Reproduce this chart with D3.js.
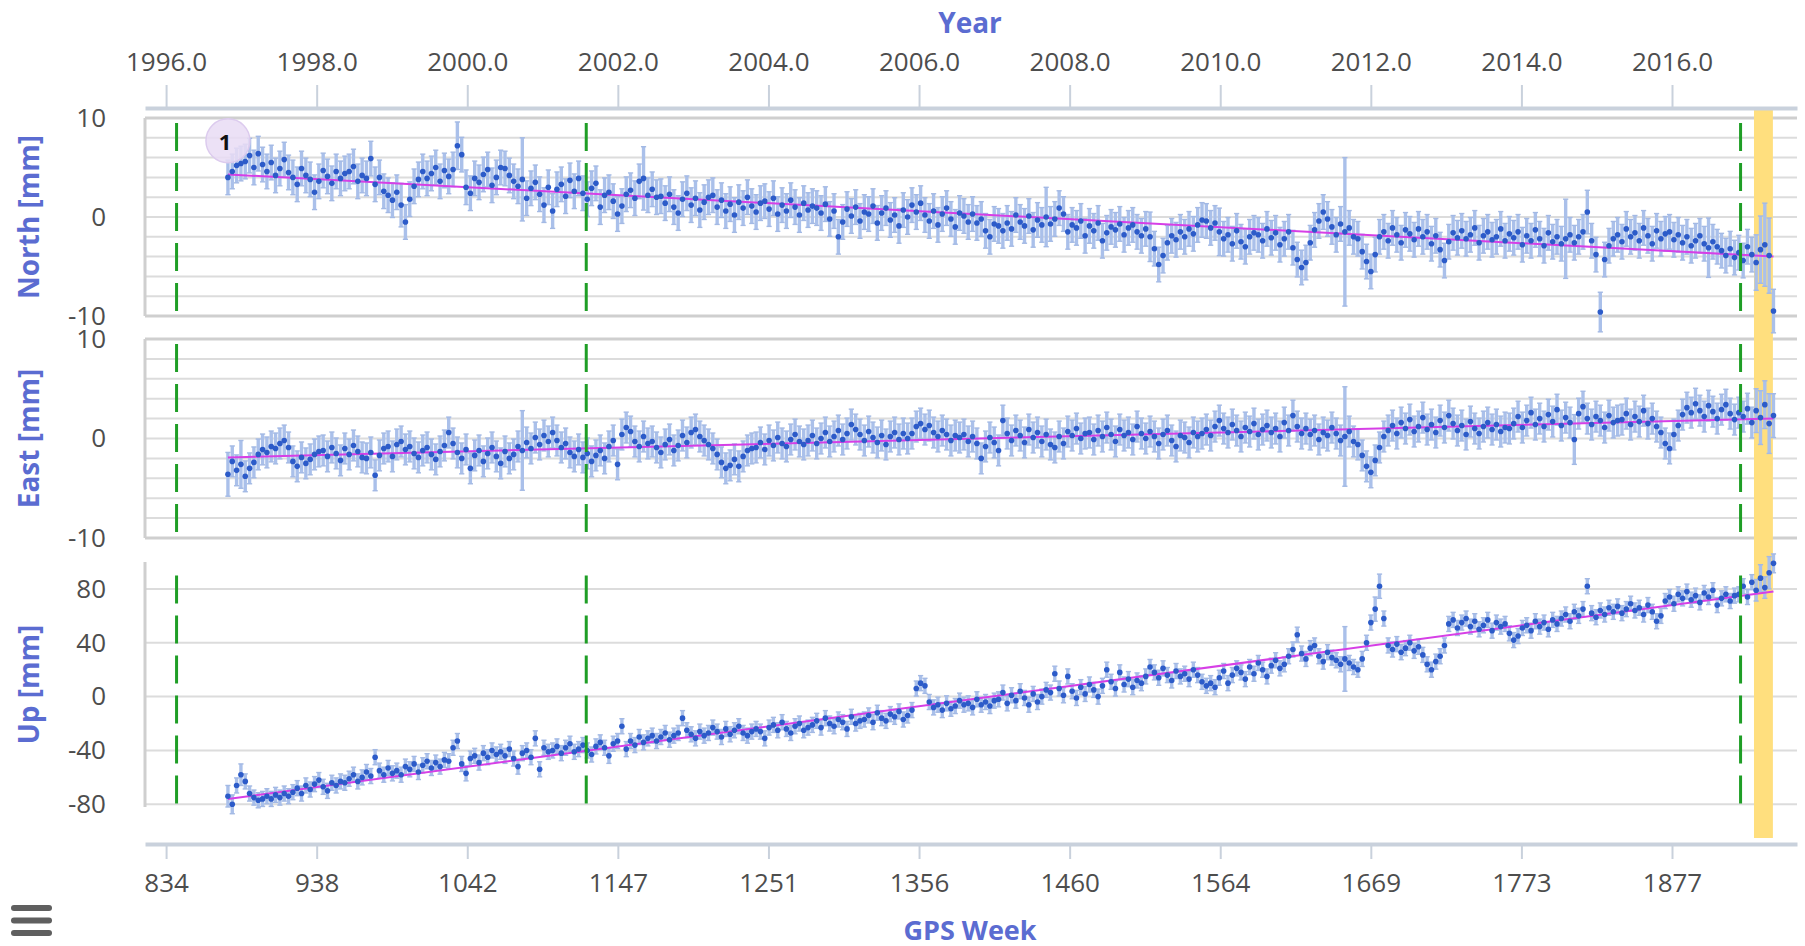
<!DOCTYPE html>
<html><head><meta charset="utf-8">
<script src="https://cdn.jsdelivr.net/npm/d3@7"></script>
<style>
body{margin:0;background:#fff;}
svg{display:block;font-family:"Open Sans",sans-serif;}
</style></head><body>
<svg id="chart" width="1805" height="946"></svg>
<script>
// ---------------- DATA ----------------
const weeks = [
877,880,883,886,889,892,895,898,901,904,907,910,913,916,919,922,925,928,931,934,
937,940,943,946,949,952,955,958,961,964,967,970,973,976,979,982,985,988,991,994,
997,1000,1003,1006,1009,1012,1015,1018,1021,1024,1027,1030,1033,1036,1039,1042,1045,1048,1051,1054,
1057,1060,1063,1066,1069,1072,1075,1078,1081,1084,1087,1090,1093,1096,1099,1102,1105,1108,1111,1114,
1117,1120,1123,1126,1129,1132,1135,1138,1141,1144,1147,1150,1153,1156,1159,1162,1165,1168,1171,1174,
1177,1180,1183,1186,1189,1192,1195,1198,1201,1204,1207,1210,1213,1216,1219,1222,1225,1228,1231,1234,
1237,1240,1243,1246,1249,1252,1255,1258,1261,1264,1267,1270,1273,1276,1279,1282,1285,1288,1291,1294,
1297,1300,1303,1306,1309,1312,1315,1318,1321,1324,1327,1330,1333,1336,1339,1342,1345,1348,1351,1354,
1357,1360,1363,1366,1369,1372,1375,1378,1381,1384,1387,1390,1393,1396,1399,1402,1405,1408,1411,1414,
1417,1420,1423,1426,1429,1432,1435,1438,1441,1444,1447,1450,1453,1456,1459,1462,1465,1468,1471,1474,
1477,1480,1483,1486,1489,1492,1495,1498,1501,1504,1507,1510,1513,1516,1519,1522,1525,1528,1531,1534,
1537,1540,1543,1546,1549,1552,1555,1558,1561,1564,1567,1570,1573,1576,1579,1582,1585,1588,1591,1594,
1597,1600,1603,1606,1609,1612,1615,1618,1621,1624,1627,1630,1633,1636,1639,1642,1645,1648,1651,1654,
1657,1660,1663,1666,1669,1672,1675,1678,1681,1684,1687,1690,1693,1696,1699,1702,1705,1708,1711,1714,
1717,1720,1723,1726,1729,1732,1735,1738,1741,1744,1747,1750,1753,1756,1759,1762,1765,1768,1771,1774,
1777,1780,1783,1786,1789,1792,1795,1798,1801,1804,1807,1810,1813,1816,1819,1822,1825,1828,1831,1834,
1837,1840,1843,1846,1849,1852,1855,1858,1861,1864,1867,1870,1873,1876,1879,1882,1885,1888,1891,1894,
1897,1900,1903,1906,1909,1912,1915,1918,1921,1924,1927,1930,1933,1936,1939,1942,1945,1948
];

const northVals = [
4.0,4.6,5.2,5.4,
5.6,6.2,5.0,6.4,5.3,4.6,5.5,4.2,4.9,5.8,4.5,4.0,
3.3,4.9,4.2,3.8,2.5,3.6,4.7,4.1,3.4,4.6,3.9,4.4,
4.6,5.1,3.6,4.2,3.9,5.9,3.3,4.0,2.6,2.2,1.7,2.5,
1.2,-0.5,1.8,3.1,3.8,4.6,3.9,4.4,5.0,3.6,4.7,4.1,
4.8,7.2,6.3,3.0,2.4,3.9,3.5,4.3,4.8,3.2,4.0,5.0,
4.9,4.2,3.6,3.1,3.8,1.9,2.9,3.5,2.3,1.2,3.0,0.6,
2.8,3.3,2.1,3.7,2.6,3.9,2.4,1.8,2.9,3.4,1.0,2.2,
2.5,1.6,0.3,1.1,2.3,2.7,1.9,3.6,3.9,2.2,2.8,2.0,
2.1,1.4,2.3,1.0,0.4,1.8,2.4,1.2,1.9,0.7,1.5,2.0,
2.2,1.0,1.7,0.6,1.3,0.2,1.5,0.9,2.0,1.1,0.5,1.4,
1.6,0.8,1.9,0.3,1.2,0.6,1.7,1.0,0.2,1.4,0.7,1.1,
0.9,0.4,1.3,-0.2,0.6,-2.0,-0.5,0.8,0.1,1.0,-0.4,0.5,
0.3,1.1,-0.6,0.4,0.9,-0.3,0.2,-0.9,0.7,0.0,1.2,0.5,
1.4,0.2,-0.4,0.6,-0.8,0.3,0.9,-0.2,-1.0,0.4,0.1,-0.5,
0.3,-0.6,-0.2,-1.4,-2.0,-0.7,-0.9,
-1.4,-0.6,-1.2,0.2,-0.5,-0.9,0.1,-1.3,-0.3,-0.8,0.0,
-0.7,-0.2,0.9,0.3,-1.5,-0.8,-1.1,-0.4,-1.9,-0.9,-1.4,-0.6,
-2.4,-1.6,-1.0,-1.3,-0.7,-1.8,-1.1,-0.8,-1.5,-1.9,-1.2,-2.0,
-3.2,-4.8,-3.9,-2.6,-1.9,-2.3,-1.5,-2.0,-1.2,-1.7,-0.8,-0.3,
-0.4,-1.1,-0.6,-1.5,-2.2,-1.8,-2.7,-1.4,-2.5,-3.0,-2.0,-1.6,
-1.8,-2.4,-1.2,-2.1,-1.6,-2.8,-2.2,-1.5,-3.1,-4.3,-5.1,-4.6,
-2.6,-1.3,-0.4,0.5,-0.2,-1.0,-1.8,-0.7,-1.5,-1.1,-2.0,
-2.2,-3.5,-4.5,-5.5,-3.8,-2.0,-1.5,-2.4,-1.1,-1.8,-2.6,-1.3,
-1.7,-2.3,-1.2,-2.0,-1.5,-2.7,-1.9,-3.3,-4.4,-2.5,-1.6,-2.1,
-1.4,-2.2,-1.8,-1.1,-2.6,-1.9,-1.5,-2.3,-2.0,-1.2,-2.4,-1.7,
-2.1,-1.5,-2.8,-1.9,-2.4,-1.3,-2.2,-2.9,-1.6,-2.5,-2.0,-2.7,
-2.2,-1.8,-2.6,-2.0,-1.5,0.5,-2.4,-3.8,-9.6,-4.3,-2.9,-2.2,
-1.8,-2.5,-1.2,-2.0,-1.6,-2.4,-1.1,-1.9,-2.7,-1.4,-2.2,-1.7,
-1.5,-2.3,-1.8,-2.6,-2.0,-2.9,-2.4,-1.9,-2.7,-3.1,-2.5,-3.0,
-3.4,-3.9,-3.2,-4.1,-3.6,-4.4,-3.0,-3.8,-4.6,-3.3,-2.8,-3.9,-9.5
];

const eastVals = [
-3.6,-2.3,-3.2,-2.6,-3.8,-3.0,-2.4,
-1.6,-1.1,-1.4,-0.8,-1.0,-0.5,-0.2,-0.9,
-2.3,-2.8,-1.9,-2.5,-2.1,-1.6,-1.3,
-1.2,-1.8,-0.9,-1.5,-2.2,-1.0,-1.6,-0.7,-1.3,-1.9,-2.0,-1.4,-3.7,-1.7,-1.0,-0.8,-1.8,
-0.6,-0.3,-1.1,-0.8,-1.5,-1.9,-1.2,-0.9,-1.6,-2.1,-1.3,-0.7,0.6,-0.5,
-1.4,-2.0,-1.1,-3.0,-1.7,-1.2,-2.3,-1.5,-0.9,-1.8,-2.5,-1.3,-2.0,-1.6,
-0.8,-1.2,-0.4,-1.0,0.1,-0.6,0.3,-0.3,0.6,-0.2,-0.9,-0.5,-1.4,-1.8,-1.1,
-1.9,-1.5,-2.3,-1.7,-1.2,-2.0,
-0.8,-0.2,-2.6,0.4,1.1,0.7,-0.3,-0.8,0.2,-0.5,
-0.3,-0.9,-1.4,-0.6,-0.1,-1.2,-0.7,0.3,-0.4,
0.6,0.9,0.2,-0.2,-0.6,
-1.0,-1.6,-2.4,-3.0,-2.7,-2.1,-2.8,-1.8,-1.2,-1.0,
-0.9,-0.4,-1.1,-0.2,-0.7,0.1,-0.5,-0.8,-0.1,0.4,-0.3,-0.6,
-0.2,0.3,-0.5,0.0,0.6,-0.3,0.2,0.8,-0.1,0.5,1.4,0.9,
0.4,-0.2,0.7,0.1,-0.4,0.3,-0.6,0.2,0.6,-0.1,0.5,0.0,
0.5,1.2,1.5,0.9,1.3,0.6,0.2,0.8,0.4,-0.2,0.3,0.1,
0.4,-0.3,0.2,-0.5,-2.0,-0.8,0.1,-0.4,
-1.2,1.8,
0.5,-0.2,0.8,0.3,-0.4,0.9,0.1,0.6,-0.3,0.4,-0.6,-0.9,0.2,-0.5,0.7,0.3,1.0,0.0,0.5,0.6,-0.1,
0.8,0.2,1.1,0.4,-0.3,0.9,0.3,0.6,-0.1,1.2,0.5,0.0,0.7,0.2,-0.5,0.4,0.8,-0.2,-0.8,0.3,0.1,-0.4,0.6,0.2,
0.5,0.9,0.3,1.2,1.8,1.0,0.6,1.4,0.8,0.2,1.1,0.7,1.5,0.4,0.9,1.3,0.6,1.0,0.2,1.6,0.8,2.3,1.2,0.5,
1.0,0.4,0.8,-0.1,0.6,0.3,1.1,0.5,-0.2,0.2,0.7,-0.3,
-0.6,-1.7,-2.8,-3.4,-2.2,-0.9,0.2,
0.8,1.3,0.5,1.6,1.0,1.9,0.7,1.2,2.1,0.9,1.4,0.6,1.8,1.1,2.3,1.5,0.8,1.3,0.4,1.7,1.0,0.5,1.2,1.6,0.9,1.4,0.7,1.1,1.0,
1.5,2.2,1.1,1.8,2.6,1.4,2.0,1.2,2.4,1.7,2.9,1.3,2.1,1.6,-0.1,2.5,3.2,2.0,1.4,2.2,1.8,1.1,2.3,1.6,
1.8,1.9,2.5,1.4,2.2,1.7,2.8,1.5,2.0,1.2,0.6,-0.5,-1.0,0.4,1.3,
2.4,3.1,2.6,3.5,2.8,2.2,3.3,2.7,2.0,2.9,3.4,2.5,1.9,2.6,
2.2,3.0,1.6,2.8,2.1,3.4,1.5,2.3
];

const upVals = [
-74,-80,-66,-58,-63,
-72,-75,-77,-76,-74,-76,-73,-75,-72,-74,
-71,-68,-72,-66,-69,-65,-62,-67,-70,-64,-66,-63,
-64,-61,-58,-63,-60,-56,-59,-45,-55,-58,-53,-57,
-55,-58,-52,-54,-50,-56,-51,-48,-53,-49,-52,-47,
-48,-38,-33,-50,-57,-46,-44,-49,-42,-45,-40,-43,
-41,-44,-39,-46,-52,-42,-40,-45,-31,-54,-38,-41,
-40,-37,-42,-38,-35,-41,-39,-36,-40,-43,-37,-34,
-38,-44,-35,-33,-22,-39,-33,-36,-30,-34,-31,-29,
-33,-30,-27,-32,-29,-27,-16,-25,-28,-31,-26,-29,
-27,-23,-26,-30,-24,-28,-25,-22,-27,-29,-26,-24,
-26,-31,-23,-21,-25,-19,-24,-27,-22,-20,-25,-23,
-21,-18,-23,-16,-20,-22,-17,-19,-24,-15,-20,-18,
-17,-14,-19,-12,-16,-18,-13,-15,-11,-17,-14,-10,
6,10,8,-4,-8,-6,-10,-5,-9,-7,-3,-6,
-5,-8,-2,-6,-4,-7,-3,
-2,3,-5,1,-3,4,-1,-6,2,-4,0,5,
3,17,6,1,15,4,-1,7,2,9,5,0,
8,20,11,6,18,9,13,7,12,10,15,22,
18,14,21,16,12,19,15,17,13,20,16,11,8,10,7,
14,19,10,16,21,18,13,22,17,25,20,15,23,27,21,
24,30,35,46,32,28,36,38,30,26,33,29,
27,24,28,25,22,20,28,
40,55,65,82,58,
38,35,39,33,36,40,34,37,31,24,20,26,
30,38,
54,57,51,55,58,52,56,50,53,57,49,55,52,54,
47,42,45,51,53,49,56,52,55,50,57,54,
58,61,56,63,60,65,82,62,59,64,61,66,
63,67,62,65,69,64,66,61,68,63,56,60,
71,74,69,76,73,78,72,75,70,77,74,79,68,73,76,71,75,
76,82,74,85,79,88,81,92,99
];

// typical one-sigma error bar half-lengths (mm) and the longer ones seen in the picture [index, sigma]
const northSigma = 1.75, eastSigma = 1.55, upSigma = 5.6;
const northSigmaOverrides = [[40,2.2],[53,2.4],[68,4.2],[96,3.2],[189,3.0],[213,2.5],[229,2.4],[258,7.5],[309,4.0],[314,2.2],[317,2.0],[342,3.0],[353,2.8],[354,3.4],[355,4.2],[356,3.8],[357,2.2]];
const eastSigmaOverrides = [[0,2.2],[3,2.4],[68,4.0],[258,5.0],[311,2.5],[353,2.2],[354,2.7],[355,2.4],[356,3.0],[357,2.2]];
const upSigmaOverrides = [[0,8],[1,7],[3,8],[258,24],[265,9],[266,9],[353,8],[354,10],[355,8],[356,12],[357,7]];

// fitted trend end points
const trendWeeks = [877, 1948];
const trendNorth = [4.3, -4.0];
const trendEast = [-1.9, 2.0];
const trendUp = [-76, 78];

// offsets / events
const breakWeeks = [841.4, 1125.3, 1925.2];
const bandWeeks = [1934.5, 1947.6];
const annotationWeek = 877, annotationValue = 7.7, annotationLabel = "1";

// axes
const yearTicks = [1996, 1998, 2000, 2002, 2004, 2006, 2008, 2010, 2012, 2014, 2016];
const yearTickLabels = ["1996.0","1998.0","2000.0","2002.0","2004.0","2006.0","2008.0","2010.0","2012.0","2014.0","2016.0"];
const weekTickLabels = ["834","938","1042","1147","1251","1356","1460","1564","1669","1773","1877"];
const northGrid = [-10,-8,-6,-4,-2,0,2,4,6,8,10];
const northTicks = [-10,0,10];
const eastGrid = [-10,-8,-6,-4,-2,0,2,4,6,8,10];
const eastTicks = [-10,0,10];
const upGrid = [-80,-40,0,40,80];
const upTicks = [-80,-40,0,40,80];

// ---------------- DRAW ----------------
const svg = d3.select("#chart");
const L = 145, R = 1797;
const yearDomain = [1995.72, 2017.66];
const week0 = 834.14, wpy = 52.1775;
const xYear = d3.scaleLinear().domain(yearDomain).range([L, R]);
const xWeek = d3.scaleLinear().domain(yearDomain.map(y => week0 + (y - 1996) * wpy)).range([L, R]);

const TITLE = "#5b6cd1", TICKTXT = "#4d4d4d", AXIS = "#c9d1dc";

function sigmaArray(n, base, over) {
  const s = new Array(n).fill(base);
  over.forEach(([i, v]) => { if (i < n) s[i] = v; });
  return s;
}

const panels = [
  {title:"North [mm]", vals:northVals, base:northSigma, over:northSigmaOverrides, trend:trendNorth,
   domain:[-10,10], range:[316,118], grid:northGrid, ticks:northTicks, border:true, brk:[9.5,-10]},
  {title:"East [mm]", vals:eastVals, base:eastSigma, over:eastSigmaOverrides, trend:trendEast,
   domain:[-10,10], range:[538,339], grid:eastGrid, ticks:eastTicks, border:true, brk:[9.5,-10]},
  {title:"Up [mm]", vals:upVals, base:upSigma, over:upSigmaOverrides, trend:trendUp,
   domain:[-82,100], range:[807,562], grid:upGrid, ticks:upTicks, border:false, brk:[90,-82]}
];

panels.forEach(p => p.y = d3.scaleLinear().domain(p.domain).range(p.range));

// gridlines, left lines, tick labels, titles
panels.forEach(p => {
  const g = svg.append("g");
  g.selectAll("line.grid").data(p.grid).join("line")
    .attr("x1", L).attr("x2", R)
    .attr("y1", d => p.y(d)).attr("y2", d => p.y(d))
    .attr("stroke", d => (p.border && Math.abs(d) === 10) ? "#cfcfcf" : "#dcdcdc")
    .attr("stroke-width", d => (p.border && Math.abs(d) === 10) ? 3 : 2);
  g.append("line").attr("x1", L).attr("x2", L)
    .attr("y1", p.range[1]).attr("y2", p.range[0])
    .attr("stroke", "#cfcfcf").attr("stroke-width", 3);
  const ax = d3.axisLeft(p.y).tickValues(p.ticks).tickSize(0).tickPadding(39).tickFormat(d => String(d));
  const ag = svg.append("g").attr("transform", `translate(${L},0)`).call(ax);
  ag.select(".domain").remove();
  ag.selectAll("text").attr("font-size", 26).attr("fill", TICKTXT).attr("font-family", "Open Sans");
  svg.append("text")
    .attr("transform", `translate(28,${(p.range[0] + p.range[1]) / 2}) rotate(-90)`)
    .attr("text-anchor", "middle").attr("dominant-baseline", "central")
    .attr("font-size", 28).attr("font-weight", 700).attr("fill", TITLE)
    .text(p.title);
});

// yellow band
svg.append("rect")
  .attr("x", xWeek(bandWeeks[0])).attr("width", xWeek(bandWeeks[1]) - xWeek(bandWeeks[0]))
  .attr("y", 110).attr("height", 838 - 110)
  .attr("fill", "#ffdf7e");

// data
panels.forEach(p => {
  const n = Math.min(weeks.length, p.vals.length);
  const sig = sigmaArray(n, p.base, p.over);
  const pts = d3.range(n).map(i => ({w: weeks[i], v: p.vals[i], s: sig[i]}));
  const g = svg.append("g");
  g.selectAll("line.eb").data(pts).join("line")
    .attr("x1", d => xWeek(d.w)).attr("x2", d => xWeek(d.w))
    .attr("y1", d => p.y(d.v - d.s)).attr("y2", d => p.y(d.v + d.s))
    .attr("stroke", "#aac0ea").attr("stroke-width", 3.4);
  ["lo","hi"].forEach(k => {
    g.selectAll("line.cap" + k).data(pts).join("line")
      .attr("x1", d => xWeek(d.w) - 2.6).attr("x2", d => xWeek(d.w) + 2.6)
      .attr("y1", d => p.y(k === "lo" ? d.v - d.s : d.v + d.s))
      .attr("y2", d => p.y(k === "lo" ? d.v - d.s : d.v + d.s))
      .attr("stroke", "#a3b9e4").attr("stroke-width", 1.4);
  });
  const line = d3.line().x(d => xWeek(d[0])).y(d => p.y(d[1]));
  g.append("path").datum(trendWeeks.map((w, i) => [w, p.trend[i]]))
    .attr("d", line).attr("fill", "none").attr("stroke", "#d63fe6").attr("stroke-width", 2);
  g.selectAll("circle").data(pts).join("circle")
    .attr("cx", d => xWeek(d.w)).attr("cy", d => p.y(d.v)).attr("r", 2.8)
    .attr("fill", "#2c5bc9");
  g.selectAll("line.brk").data(breakWeeks).join("line")
    .attr("x1", d => xWeek(d)).attr("x2", d => xWeek(d))
    .attr("y1", p.y(p.brk[0])).attr("y2", p.y(p.brk[1]))
    .attr("stroke", "#1f9e26").attr("stroke-width", 3).attr("stroke-dasharray", "28,12");
});

// annotation flag
const pN = panels[0];
svg.append("circle").attr("cx", xWeek(annotationWeek)).attr("cy", pN.y(annotationValue)).attr("r", 22)
  .attr("fill", "#e9dcf4").attr("fill-opacity", 0.85).attr("stroke", "#dccbee").attr("stroke-width", 1.5);
svg.append("text").attr("x", xWeek(annotationWeek) - 3).attr("y", pN.y(annotationValue))
  .attr("text-anchor", "middle").attr("dominant-baseline", "central")
  .attr("font-size", 22).attr("font-weight", 700).attr("fill", "#111").text(annotationLabel);

// top year axis
const topAx = d3.axisTop(xYear).tickValues(yearTicks).tickSizeInner(23).tickSizeOuter(0).tickPadding(14)
  .tickFormat((d, i) => yearTickLabels[i]);
const tg = svg.append("g").attr("transform", "translate(0,108)").call(topAx);
tg.select(".domain").attr("stroke", AXIS).attr("stroke-width", 4);
tg.selectAll(".tick line").attr("stroke", AXIS).attr("stroke-width", 2);
tg.selectAll("text").attr("font-size", 26).attr("fill", TICKTXT).attr("font-family", "Open Sans");
svg.append("text").attr("x", 970).attr("y", 22).attr("text-anchor", "middle").attr("dominant-baseline", "central")
  .attr("font-size", 28).attr("font-weight", 700).attr("fill", TITLE).text("Year");

// bottom GPS week axis
const botAx = d3.axisBottom(xYear).tickValues(yearTicks).tickSizeInner(15).tickSizeOuter(0).tickPadding(15)
  .tickFormat((d, i) => weekTickLabels[i]);
const bg = svg.append("g").attr("transform", "translate(0,844)").call(botAx);
bg.select(".domain").attr("stroke", AXIS).attr("stroke-width", 4);
bg.selectAll(".tick line").attr("stroke", AXIS).attr("stroke-width", 2);
bg.selectAll("text").attr("font-size", 26).attr("fill", TICKTXT).attr("font-family", "Open Sans");
svg.append("text").attr("x", 970).attr("y", 929).attr("text-anchor", "middle").attr("dominant-baseline", "central")
  .attr("font-size", 27).attr("font-weight", 700).attr("fill", TITLE).text("GPS Week");

// menu icon
[908, 920.5, 933].forEach(cy => {
  svg.append("rect").attr("x", 11).attr("y", cy - 3).attr("width", 41).attr("height", 6).attr("rx", 3)
    .attr("fill", "#5f5f5f");
});
</script>
</body></html>
